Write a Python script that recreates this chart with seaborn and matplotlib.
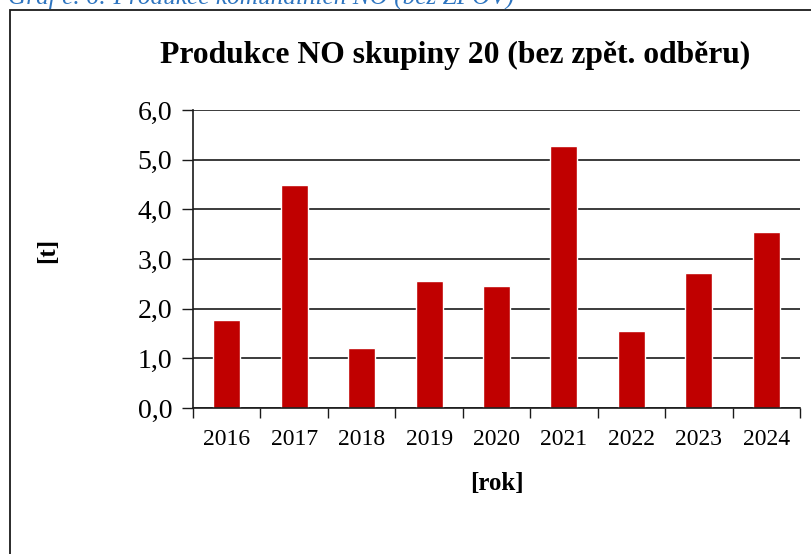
import pandas as pd
import matplotlib.pyplot as plt
import seaborn as sns
from matplotlib.patches import Rectangle
from matplotlib.ticker import FuncFormatter, MultipleLocator

# Data
years = ['2016', '2017', '2018', '2019', '2020', '2021', '2022', '2023', '2024']
production = [1.78, 4.49, 1.21, 2.55, 2.45, 5.27, 1.55, 2.71, 3.54]

df = pd.DataFrame({'rok': years, 't': production})

sns.set_theme(style='white')
plt.rcParams['font.family'] = ['Liberation Serif', 'DejaVu Serif']
plt.rcParams['text.color'] = 'black'
plt.rcParams['axes.labelcolor'] = 'black'
plt.rcParams['xtick.color'] = 'black'
plt.rcParams['ytick.color'] = 'black'

fig = plt.figure(figsize=(8.11, 5.54), dpi=100)
ax = fig.add_axes([0.238, 0.2635, 0.7485, 0.5379])

sns.barplot(data=df, x='rok', y='t', color='#C00000', saturation=1,
            width=0.4, ax=ax)

ax.set_ylim(0, 6)
ax.set_xlim(-0.5, len(years) - 0.5)
ax.yaxis.set_major_locator(MultipleLocator(1))
ax.yaxis.set_major_formatter(FuncFormatter(lambda v, p: f'{v:.1f}'.replace('.', ',')))
ax.yaxis.grid(True, color='#1a1a1a', linewidth=1.2)
ax.set_axisbelow(True)

# ticks between categories on x axis
ax.set_xticks([i - 0.5 for i in range(len(years) + 1)], minor=False)
ax.set_xticklabels([])
ax.set_xticks(range(len(years)), minor=True)
ax.set_xticklabels(years, minor=True)
ax.tick_params(axis='x', which='major', length=7, width=1, color='#1a1a1a', direction='out', bottom=True)
ax.tick_params(axis='x', which='minor', length=0, labelsize=17, pad=15)
ax.tick_params(axis='y', length=8, width=1, color='#1a1a1a', direction='out', left=True, labelsize=20, pad=7)

for side in ['top', 'right']:
    ax.spines[side].set_visible(False)
for side in ['left', 'bottom']:
    ax.spines[side].set_color('#1a1a1a')
    ax.spines[side].set_linewidth(1.2)

ax.set_xlabel('[rok]', fontsize=18, fontweight='bold', labelpad=16)
ax.set_ylabel('[t]', fontsize=18, fontweight='bold', labelpad=0)
ax.yaxis.set_label_coords(-0.22, 0.53)

fig.text(0.561, 0.9, 'Produkce NO skupiny 20 (bez zpět. odběru)',
         ha='center', va='center', fontsize=22.8, fontweight='bold')

# caption cut off at the top of the picture
fig.text(0.010, 0.994, 'Graf č. 6: Produkce komunálních NO (bez ZPOV)',
         ha='left', va='baseline', fontsize=18.2, style='italic', color='#2E75C0')

# chart frame
fig.patches.append(Rectangle((9.5 / 811, -0.1), 1.2, 1.1 - 10 / 554,
                             transform=fig.transFigure, fill=False,
                             edgecolor='#1a1a1a', linewidth=1.3))

plt.savefig('out.png', dpi=100)
plt.close()
